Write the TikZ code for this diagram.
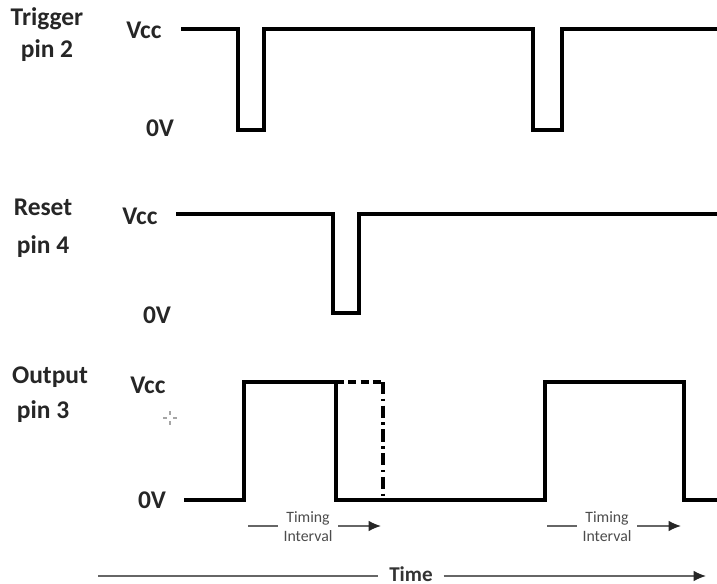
\documentclass[tikz,border=0pt]{standalone}
\usepackage{fontspec}
\setmainfont{Carlito}
\usetikzlibrary{arrows.meta}
\tikzset{
  sig/.style={line width=2pt, line join=miter},
  lbl/.style={font=\fontsize{14.5}{17}\selectfont\bfseries, text=black!85},
  tinfo/.style={font=\fontsize{9}{10.8}\selectfont, text=black!70, align=center, inner sep=1pt},
  tline/.style={line width=0.8pt, black!60},
  tip/.style={-{Latex[length=7pt,width=6pt,black!85]}},
}
\begin{document}
\begin{tikzpicture}[x=0.02cm, y=-0.02cm]
  \useasboundingbox (0,0) rectangle (717,584);
  % signal names
  \node[lbl] (trig) at (47,19) {Trigger};
  \node[lbl] (trigpin) at (47,51) {pin 2};
  \node[lbl] (rst) at (43,207) {Reset};
  \node[lbl] (rstpin) at (43,247) {pin 4};
  \node[lbl] (out) at (50,377) {Output};
  \node[lbl] (outpin) at (43,412) {pin 3};
  % levels
  \node[lbl] (trighi) at (144,30) {Vcc};
  \node[lbl] (triglo) at (160,128) {0V};
  \node[lbl] (rsthi) at (140,216) {Vcc};
  \node[lbl] (rstlo) at (157,315) {0V};
  \node[lbl] (outhi) at (148,385) {Vcc};
  \node[lbl] (outlo) at (152,500) {0V};
  % waveforms
  \draw[sig] (181,29) -- (238,29) -- (238,130) -- (264,130) -- (264,29)
    -- (533,29) -- (533,130) -- (562,130) -- (562,29) -- (717,29);
  \draw[sig] (176,214) -- (333,214) -- (333,313) -- (359,313) -- (359,214) -- (717,214);
  \draw[sig] (184,500) -- (244,500) -- (244,382) -- (336,382) -- (336,500)
    -- (545,500) -- (545,382) -- (684,382) -- (684,500) -- (717,500);
  \draw[line width=2pt, dash pattern=on 4.5pt off 2.5pt] (336,382) -- (383,382);
  \draw[line width=2pt, dash pattern=on 7pt off 2.5pt on 1.5pt off 2.5pt] (383,382) -- (383,500);
  % faint cross mark
  \draw[black!35, line width=0.6pt] (163,418) -- (167,418) (173,418) -- (177,418)
    (170,411) -- (170,415) (170,421) -- (170,425);
  % timing intervals
  \node[tinfo] (ti1) at (308,527) {Timing\\Interval};
  \node[tinfo] (ti2) at (607,527) {Timing\\Interval};
  \coordinate (ti1a) at (248,526);
  \coordinate (ti1b) at (381,526);
  \coordinate (ti2a) at (547,526);
  \coordinate (ti2b) at (681,526);
  \draw[tline, shorten >=2pt] (ti1a) -- (ti1.west |- ti1a);
  \draw[tline, tip, shorten <=2pt] (ti1.east |- ti1b) -- (ti1b);
  \draw[tline, shorten >=2pt] (ti2a) -- (ti2.west |- ti2a);
  \draw[tline, tip, shorten <=2pt] (ti2.east |- ti2b) -- (ti2b);
  % time axis
  \node[font=\fontsize{12}{14}\selectfont\bfseries, text=black!80, inner sep=1pt] (time) at (411,574) {Time};
  \coordinate (t0) at (98,576);
  \coordinate (t1) at (706,576);
  \draw[tline, shorten >=5pt] (t0) -- (time.west |- t0);
  \draw[tline, tip, shorten <=5pt] (time.east |- t1) -- (t1);
\end{tikzpicture}
\end{document}
